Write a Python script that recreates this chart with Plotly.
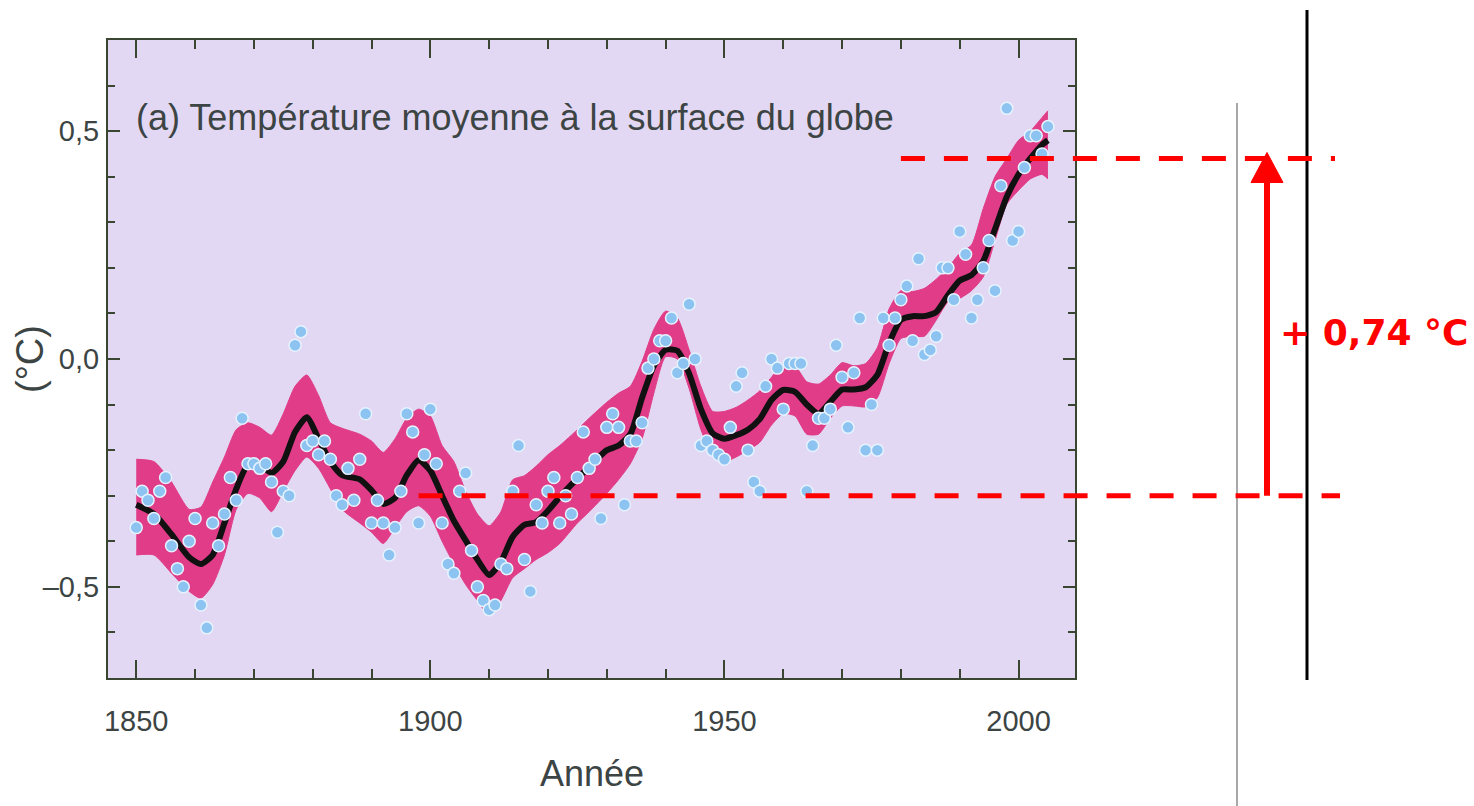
import plotly.graph_objects as go

# ---------------------------------------------------------------- data
years = list(range(1850, 2006))
annual = [
    -0.37, -0.29, -0.31, -0.35, -0.29, -0.26, -0.41, -0.46, -0.50, -0.40,   # 1850-1859
    -0.35, -0.54, -0.59, -0.36, -0.41, -0.34, -0.26, -0.31, -0.13, -0.23,   # 1860-1869
    -0.23, -0.24, -0.23, -0.27, -0.38, -0.29, -0.30, 0.03, 0.06, -0.19,     # 1870-1879
    -0.18, -0.21, -0.18, -0.22, -0.30, -0.32, -0.24, -0.31, -0.22, -0.12,   # 1880-1889
    -0.36, -0.31, -0.36, -0.43, -0.37, -0.29, -0.12, -0.16, -0.36, -0.21,   # 1890-1899
    -0.11, -0.23, -0.36, -0.45, -0.47, -0.29, -0.25, -0.42, -0.50, -0.53,   # 1900-1909
    -0.55, -0.54, -0.45, -0.46, -0.29, -0.19, -0.44, -0.51, -0.32, -0.36,   # 1910-1919
    -0.29, -0.26, -0.36, -0.30, -0.34, -0.26, -0.16, -0.24, -0.22, -0.35,   # 1920-1929
    -0.15, -0.12, -0.15, -0.32, -0.18, -0.18, -0.14, -0.02, 0.00, 0.04,     # 1930-1939
    0.04, 0.09, -0.03, -0.01, 0.12, 0.00, -0.19, -0.18, -0.20, -0.21,       # 1940-1949
    -0.22, -0.15, -0.06, -0.03, -0.20, -0.27, -0.29, -0.06, 0.00, -0.02,    # 1950-1959
    -0.11, -0.01, -0.01, -0.01, -0.29, -0.19, -0.13, -0.13, -0.11, 0.03,    # 1960-1969
    -0.04, -0.15, -0.03, 0.09, -0.20, -0.10, -0.20, 0.09, 0.03, 0.09,       # 1970-1979
    0.13, 0.16, 0.04, 0.22, 0.01, 0.02, 0.05, 0.20, 0.20, 0.13,             # 1980-1989
    0.28, 0.23, 0.09, 0.13, 0.20, 0.26, 0.15, 0.38, 0.55, 0.26,             # 1990-1999
    0.28, 0.42, 0.49, 0.49, 0.45, 0.51,                                     # 2000-2005
]

smooth_years = [
    1850, 1853, 1856, 1859, 1861, 1863, 1865, 1867, 1869, 1871, 1873, 1875,
    1877, 1879, 1881, 1883, 1885, 1888, 1890, 1892, 1894, 1896, 1898, 1900,
    1902, 1904, 1906, 1908, 1910, 1912, 1914, 1916, 1918, 1920, 1922, 1925,
    1927, 1930, 1932, 1934, 1936, 1938, 1940, 1942, 1944, 1946, 1948, 1950,
    1952, 1954, 1956, 1958, 1960, 1962, 1964, 1966, 1968, 1970, 1972, 1974,
    1976, 1978, 1980, 1982, 1984, 1986, 1988, 1990, 1992, 1994, 1996, 1998,
    2000, 2002, 2004, 2005,
]
smooth = [
    -0.32, -0.34, -0.385, -0.435, -0.45, -0.43, -0.36, -0.285, -0.232, -0.232, -0.25, -0.225,
    -0.16, -0.128, -0.175, -0.225, -0.255, -0.264, -0.288, -0.318, -0.305, -0.255, -0.222, -0.245,
    -0.30, -0.355, -0.398, -0.44, -0.474, -0.445, -0.39, -0.364, -0.358, -0.333, -0.303, -0.262,
    -0.237, -0.20, -0.19, -0.165, -0.085, -0.015, 0.02, 0.018, -0.032, -0.11, -0.163, -0.175,
    -0.167, -0.155, -0.132, -0.09, -0.068, -0.072, -0.10, -0.12, -0.094, -0.067, -0.067, -0.062,
    -0.035, 0.035, 0.086, 0.094, 0.094, 0.103, 0.14, 0.172, 0.184, 0.215, 0.285, 0.356,
    0.405, 0.44, 0.47, 0.48,
]
band_high = [
    -0.22, -0.225, -0.27, -0.33, -0.325, -0.27, -0.215, -0.155, -0.14, -0.15, -0.167, -0.12,
    -0.06, -0.035, -0.08, -0.14, -0.152, -0.165, -0.18, -0.205, -0.175, -0.13, -0.11, -0.125,
    -0.19, -0.225, -0.29, -0.34, -0.366, -0.335, -0.265, -0.256, -0.235, -0.21, -0.19, -0.155,
    -0.13, -0.095, -0.075, -0.06, -0.005, 0.065, 0.105, 0.09, 0.02, -0.06, -0.115, -0.115,
    -0.106, -0.09, -0.07, -0.04, -0.01, -0.015, -0.05, -0.055, -0.035, -0.008, -0.015, -0.01,
    0.025, 0.11, 0.15, 0.148, 0.155, 0.175, 0.20, 0.232, 0.25, 0.33, 0.40, 0.44,
    0.48, 0.50, 0.53, 0.545,
]
band_low = [
    -0.43, -0.43, -0.47, -0.51, -0.525, -0.495, -0.43, -0.33, -0.295, -0.305, -0.335, -0.29,
    -0.245, -0.215, -0.24, -0.285, -0.33, -0.36, -0.38, -0.405, -0.37, -0.335, -0.322, -0.345,
    -0.40, -0.45, -0.495, -0.53, -0.563, -0.53, -0.48, -0.46, -0.44, -0.425, -0.405, -0.36,
    -0.335, -0.295, -0.265, -0.23, -0.175, -0.075, 0.005, 0.0, -0.065, -0.155, -0.21, -0.225,
    -0.215, -0.20, -0.183, -0.145, -0.12, -0.125, -0.165, -0.165, -0.13, -0.103, -0.103, -0.105,
    -0.085, -0.01, 0.045, 0.05, 0.05, 0.085, 0.125, 0.133, 0.15, 0.18, 0.26, 0.34,
    0.37, 0.395, 0.405, 0.395,
]

x_ticks = [1850, 1900, 1950, 2000]
y_ticks = [-0.5, 0.0, 0.5]
y_tick_text = ["\u20130,5", "0,0", "0,5"]

title_text = "(a) Température moyenne à la surface du globe"
x_title = "Année"
y_title = "(°C)"

# warming between the two reference levels
base_level = -0.30
rise = 0.74
top_level = base_level + rise
rise_label = "+ 0,74 °C"
base_from_year = 1898
top_from_year = 1980

# ---------------------------------------------------------------- layout constants
X_RANGE = [1845.2, 2009.6]
Y_RANGE = [-0.70, 0.70]
MARGIN = dict(l=108, r=399, t=40, b=128)
W, H = 1474, 806
PLOT_W = W - MARGIN["l"] - MARGIN["r"]
PLOT_H = H - MARGIN["t"] - MARGIN["b"]

LAVENDER = "#e3d8f4"
BAND = "#e03c88"
TEXT = "#3c4444"
FRAME = "#3a4632"
RED = "#ff0000"
SANS = "Liberation Sans, Arial, sans-serif"


def xp(year):
    return (year - X_RANGE[0]) / (X_RANGE[1] - X_RANGE[0])


def yp(v):
    return (v - Y_RANGE[0]) / (Y_RANGE[1] - Y_RANGE[0])


def px_x(pixels):
    """horizontal pixel offset -> paper units"""
    return pixels / PLOT_W


def px_y(pixels):
    return pixels / PLOT_H


fig = go.Figure()

# uncertainty band
fig.add_trace(go.Scatter(
    x=smooth_years, y=band_low, mode="lines",
    line=dict(color=BAND, width=1, shape="spline", smoothing=0.6),
    hoverinfo="skip", showlegend=False,
))
fig.add_trace(go.Scatter(
    x=smooth_years, y=band_high, mode="lines", fill="tonexty", fillcolor=BAND,
    line=dict(color=BAND, width=1, shape="spline", smoothing=0.6),
    hoverinfo="skip", showlegend=False,
))
# smoothed curve
fig.add_trace(go.Scatter(
    x=smooth_years, y=smooth, mode="lines",
    line=dict(color="#111111", width=6, shape="spline", smoothing=0.6),
    showlegend=False,
))
# annual values
fig.add_trace(go.Scatter(
    x=years, y=annual, mode="markers",
    marker=dict(size=12, color="#8cc3f0", line=dict(color="#e6f3ff", width=1.5)),
    showlegend=False,
))

axis_common = dict(
    showline=True, linecolor=FRAME, linewidth=2, mirror="ticks",
    ticks="inside", tickcolor=FRAME, tickwidth=2,
    showgrid=False, zeroline=False,
    tickfont=dict(family=SANS, size=29, color=TEXT),
)
fig.update_xaxes(
    range=X_RANGE, tickvals=x_ticks, ticklen=18, ticklabelstandoff=16,
    minor=dict(dtick=10, tick0=1850, ticks="inside", ticklen=9, tickcolor=FRAME, tickwidth=2),
    **axis_common,
)
fig.update_yaxes(
    range=Y_RANGE, tickvals=y_ticks, ticktext=y_tick_text, ticklen=12, ticklabelstandoff=1,
    minor=dict(dtick=0.1, tick0=0, ticks="inside", ticklen=7, tickcolor=FRAME, tickwidth=2),
    **axis_common,
)

shapes = []
dash = "24px,19px"
# reference levels
shapes.append(dict(type="line", xref="paper", yref="paper",
                   x0=xp(base_from_year), x1=1 + px_x(265), y0=yp(base_level), y1=yp(base_level),
                   line=dict(color=RED, width=5, dash=dash), layer="above"))
shapes.append(dict(type="line", xref="paper", yref="paper",
                   x0=xp(top_from_year), x1=1 + px_x(260), y0=yp(top_level), y1=yp(top_level),
                   line=dict(color=RED, width=5, dash=dash), layer="above"))
# side rules
shapes.append(dict(type="line", xref="paper", yref="paper",
                   x0=1 + px_x(162), x1=1 + px_x(162), y0=px_y(-128), y1=px_y(575),
                   line=dict(color="#a8a8a8", width=2), layer="below"))
shapes.append(dict(type="line", xref="paper", yref="paper",
                   x0=1 + px_x(232), x1=1 + px_x(232), y0=px_y(-2), y1=px_y(668),
                   line=dict(color="#000000", width=3), layer="below"))
# arrow
ax = 1 + px_x(192)
head_h = px_y(30)
head_w = px_x(16)
tip = yp(top_level) + px_y(6)
shapes.append(dict(type="line", xref="paper", yref="paper",
                   x0=ax, x1=ax, y0=yp(base_level), y1=tip - head_h + px_y(2),
                   line=dict(color=RED, width=6), layer="above"))
shapes.append(dict(type="path", xref="paper", yref="paper",
                   path=f"M {ax - head_w} {tip - head_h} L {ax + head_w} {tip - head_h} L {ax} {tip} Z",
                   fillcolor=RED, line=dict(color=RED, width=1), layer="above"))

annotations = [
    dict(text=title_text, xref="paper", yref="paper", x=px_x(26), y=1 - px_y(78),
         xanchor="left", yanchor="middle", showarrow=False,
         font=dict(family=SANS, size=36, color=TEXT)),
    dict(text=x_title, xref="paper", yref="paper", x=0.5, y=-px_y(96),
         xanchor="center", yanchor="middle", showarrow=False,
         font=dict(family=SANS, size=36, color=TEXT)),
    dict(text=y_title, xref="paper", yref="paper", x=-px_x(78), y=yp(0.0),
         xanchor="center", yanchor="middle", showarrow=False, textangle=-90,
         font=dict(family=SANS, size=38, color=TEXT)),
    dict(text=f"<b>{rise_label}</b>", xref="paper", yref="paper", x=1 + px_x(203),
         y=yp((base_level + top_level) / 2) + px_y(-5),
         xanchor="left", yanchor="middle", showarrow=False,
         font=dict(family="DejaVu Sans", size=36, color=RED)),
]

fig.update_layout(
    width=W, height=H, margin=MARGIN,
    paper_bgcolor="white", plot_bgcolor=LAVENDER,
    shapes=shapes, annotations=annotations, showlegend=False,
)

fig.write_html("out.html")
